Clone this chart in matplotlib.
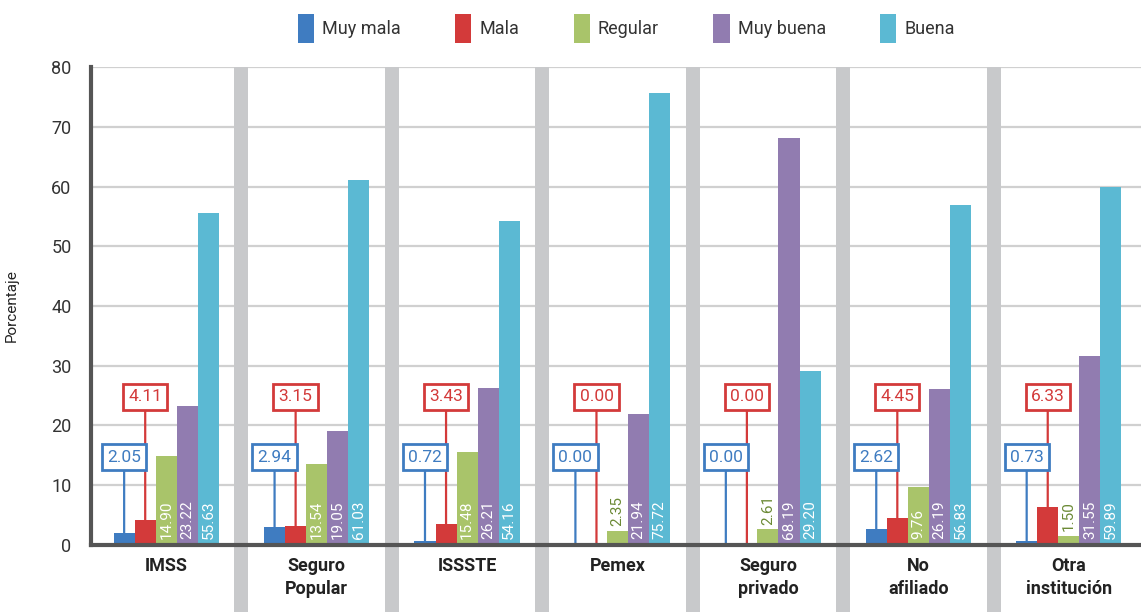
import numpy as np
import matplotlib
matplotlib.use("Agg")
import matplotlib.pyplot as plt
from matplotlib.patches import Rectangle
import matplotlib.transforms as mtransforms

plt.rcParams['font.family'] = ['Roboto', 'DejaVu Sans']

categorias = ['IMSS', 'Seguro\nPopular', 'ISSSTE', 'Pemex', 'Seguro\nprivado', 'No\nafiliado', 'Otra\ninstitución']
series = ['Muy mala', 'Mala', 'Regular', 'Muy buena', 'Buena']
colores = ['#3f7cc1', '#d33a3a', '#a9c46a', '#917cb0', '#5bb9d3']

muy_mala = [2.05, 2.94, 0.72, 0.00, 0.00, 2.62, 0.73]
mala = [4.11, 3.15, 3.43, 0.00, 0.00, 4.45, 6.33]
regular = [14.90, 13.54, 15.48, 2.35, 2.61, 9.76, 1.50]
muy_buena = [23.22, 19.05, 26.21, 21.94, 68.19, 26.19, 31.55]
buena = [55.63, 61.03, 54.16, 75.72, 29.20, 56.83, 59.89]

valores = [muy_mala, mala, regular, muy_buena, buena]

fig = plt.figure(figsize=(11.41, 6.12), dpi=100)
ax = fig.add_axes([0.0798, 0.1095, 0.9202, 0.781])

x = np.arange(len(categorias))
w = 0.14

for i, (nombre, vals, c) in enumerate(zip(series, valores, colores)):
    pos = x + (i - 2) * w
    ax.bar(pos, vals, w, color=c, label=nombre, zorder=3)
    if i >= 2:
        for p, v in zip(pos, vals):
            if v < 5:
                ax.text(p, v + 0.8, f'{v:.2f}', rotation=90, ha='center', va='bottom',
                        color='#6b8a35', fontsize=11, zorder=4)
            else:
                ax.text(p, 1.0, f'{v:.2f}', rotation=90, ha='center', va='bottom',
                        color='white', fontsize=11, zorder=4)

# callouts for the small series
for i, nivel, z in [(1, 24.8, 5), (0, 14.7, 6)]:
    for p, v in zip(x + (i - 2) * w, valores[i]):
        ax.annotate(f'{v:.2f}', xy=(p, v), xytext=(p, nivel), ha='center', va='center',
                    color=colores[i], fontsize=12.5, zorder=z,
                    bbox=dict(boxstyle='square,pad=0.3', fc='white', ec=colores[i], lw=2),
                    arrowprops=dict(arrowstyle='-', color=colores[i], lw=1.6,
                                    shrinkA=0, shrinkB=0))

# gray separators between groups, reaching into the label area
trans = mtransforms.blended_transform_factory(ax.transData, ax.transAxes)
for s in x[:-1] + 0.5:
    ax.add_patch(Rectangle((s - 0.0465, -0.15), 0.093, 1.15, transform=trans,
                           color='#c8c9cb', clip_on=False, zorder=1, lw=0))

ax.set_xlim(-0.5, 6.48)
ax.set_ylim(0, 80)
ax.set_yticks(np.arange(0, 81, 10))
ax.yaxis.grid(True, color='#d0d0d0', lw=1.6, zorder=0)
ax.set_axisbelow(True)
ax.set_xticks(x)
ax.set_xticklabels(categorias, fontsize=13, fontweight='bold', color='#222222', linespacing=1.3)
ax.tick_params(axis='x', length=0, pad=9)
ax.tick_params(axis='y', length=0, pad=14, labelsize=13, labelcolor='#333333')

for sp in ['top', 'right']:
    ax.spines[sp].set_visible(False)
for sp in ['left', 'bottom']:
    ax.spines[sp].set_color('#555555')
    ax.spines[sp].set_linewidth(3)
    ax.spines[sp].set_zorder(7)

ax.set_ylabel('Porcentaje', fontsize=11, color='#222222')
ax.yaxis.set_label_coords(-0.069, 0.5)

fig.legend(loc='center', bbox_to_anchor=(0.549, 0.954), ncol=5, frameon=False,
           fontsize=13, handlelength=0.9, handleheight=2.1, handletextpad=0.45,
           columnspacing=3.0, labelcolor='#333333')

fig.savefig('out.png', dpi=100)
